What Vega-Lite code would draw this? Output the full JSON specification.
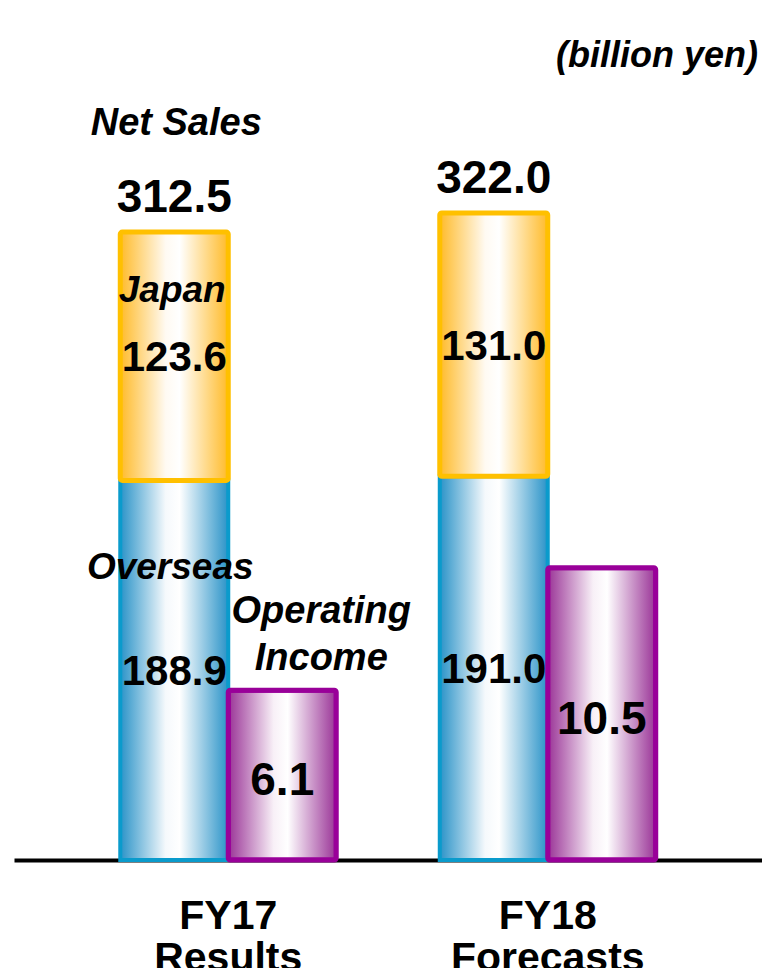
{
  "$schema": "https://vega.github.io/schema/vega-lite/v6.json",
  "width": 748,
  "height": 860,
  "padding": {"left": 14, "top": 0, "right": 0, "bottom": 0},
  "background": "white",
  "config": {
    "view": {"stroke": null},
    "font": "Liberation Sans",
    "axisY": {"disable": true},
    "axisX": {
      "domainColor": "black",
      "domainWidth": 4,
      "ticks": false,
      "tickSize": 0,
      "grid": false,
      "labelFont": "Liberation Sans",
      "labelFontSize": 41,
      "labelFontWeight": "bold",
      "labelColor": "black",
      "labelPadding": 36,
      "labelLineHeight": 42,
      "labelAngle": 0,
      "labelLimit": 0
    }
  },
  "data": {
    "values": [
      {"period": "FY17 Results", "measure": "Net Sales", "segment": "Overseas", "value": 188.9},
      {"period": "FY17 Results", "measure": "Net Sales", "segment": "Japan", "value": 123.6},
      {"period": "FY17 Results", "measure": "Operating Income", "segment": "Operating Income", "value": 6.1},
      {"period": "FY18 Forecasts", "measure": "Net Sales", "segment": "Overseas", "value": 191.0},
      {"period": "FY18 Forecasts", "measure": "Net Sales", "segment": "Japan", "value": 131.0},
      {"period": "FY18 Forecasts", "measure": "Operating Income", "segment": "Operating Income", "value": 10.5}
    ]
  },
  "layer": [
    {
      "transform": [
        {"filter": "datum.measure === 'Net Sales'"},
        {"stack": "value", "groupby": ["period"], "sort": [{"field": "segment", "order": "descending"}], "as": ["v0", "v1"]}
      ],
      "encoding": {
        "x": {"field": "period", "type": "nominal", "sort": ["FY17 Results", "FY18 Forecasts"], "scale": {"domain": ["FY17 Results", "FY18 Forecasts"], "paddingInner": 0.324, "paddingOuter": 0.3326}, "axis": {"title": null, "labelExpr": "split(datum.label, ' ')"}},
        "xOffset": {"field": "measure", "type": "nominal", "scale": {"domain": ["Net Sales", "Operating Income"], "paddingInner": 0, "paddingOuter": 0}}
      },
      "layer": [
        {
          "transform": [{"filter": "datum.segment === 'Overseas'"}],
          "mark": {
            "type": "bar",
            "stroke": "#0a9bcc",
            "strokeWidth": 4,
            "fill": {"gradient": "linear", "x1": 0, "y1": 0, "x2": 1, "y2": 0, "stops": [
              {"offset": 0, "color": "#2a93c8"},
              {"offset": 0.42, "color": "#f5f9fc"},
              {"offset": 0.55, "color": "#ffffff"},
              {"offset": 1, "color": "#2a93c8"}
            ]}
          },
          "encoding": {
            "y": {"field": "v1", "type": "quantitative", "scale": {"domain": [0, 428], "nice": false}, "axis": null},
            "y2": {"field": "v0"}
          }
        },
        {
          "transform": [{"filter": "datum.segment === 'Japan'"}],
          "mark": {
            "type": "bar",
            "stroke": "#ffc000",
            "strokeWidth": 5,
            "cornerRadius": 2,
            "fill": {"gradient": "linear", "x1": 0, "y1": 0, "x2": 1, "y2": 0, "stops": [
              {"offset": 0, "color": "#ffbb2a"},
              {"offset": 0.42, "color": "#fffaf2"},
              {"offset": 0.55, "color": "#ffffff"},
              {"offset": 1, "color": "#ffbb2a"}
            ]}
          },
          "encoding": {
            "y": {"field": "v1", "type": "quantitative"},
            "y2": {"field": "v0"}
          }
        },
        {
          "transform": [{"aggregate": [{"op": "sum", "field": "value", "as": "total"}], "groupby": ["period", "measure"]}],
          "mark": {"type": "text", "fontSize": 46, "fontWeight": "bold", "baseline": "alphabetic", "dy": -20, "color": "black"},
          "encoding": {
            "y": {"field": "total", "type": "quantitative"},
            "text": {"field": "total", "format": ".1f"}
          }
        },
        {
          "mark": {"type": "text", "fontSize": 42, "fontWeight": "bold", "baseline": "middle", "dy": 2, "color": "black"},
          "encoding": {
            "y": {"field": "value", "type": "quantitative", "stack": "zero", "bandPosition": 0.5},
            "detail": {"field": "segment"},
            "order": {"field": "segment", "sort": "descending"},
            "text": {"field": "value", "format": ".1f"}
          }
        },
        {
          "transform": [{"filter": "datum.period === 'FY17 Results' && datum.segment === 'Japan'"}],
          "mark": {"type": "text", "fontSize": 38, "fontWeight": "bold", "fontStyle": "italic", "baseline": "alphabetic", "dx": 2, "color": "black"},
          "encoding": {
            "y": {"datum": 361, "type": "quantitative"},
            "text": {"field": "measure"}
          }
        },
        {
          "transform": [{"filter": "datum.period === 'FY17 Results' && datum.segment === 'Japan'"}],
          "mark": {"type": "text", "fontSize": 37, "fontWeight": "bold", "fontStyle": "italic", "baseline": "alphabetic", "dx": -2, "color": "black"},
          "encoding": {
            "y": {"datum": 277.9, "type": "quantitative"},
            "text": {"field": "segment"}
          }
        },
        {
          "transform": [{"filter": "datum.period === 'FY17 Results' && datum.segment === 'Overseas'"}],
          "mark": {"type": "text", "fontSize": 37, "fontWeight": "bold", "fontStyle": "italic", "baseline": "alphabetic", "dx": -4, "color": "black"},
          "encoding": {
            "y": {"datum": 139.9, "type": "quantitative"},
            "text": {"field": "segment"}
          }
        }
      ]
    },
    {
      "transform": [{"filter": "datum.measure === 'Operating Income'"}],
      "encoding": {
        "x": {"field": "period", "type": "nominal", "sort": ["FY17 Results", "FY18 Forecasts"], "scale": {"domain": ["FY17 Results", "FY18 Forecasts"], "paddingInner": 0.324, "paddingOuter": 0.3326}, "axis": {"title": null, "labelExpr": "split(datum.label, ' ')"}},
        "xOffset": {"field": "measure", "type": "nominal", "scale": {"domain": ["Net Sales", "Operating Income"], "paddingInner": 0, "paddingOuter": 0}}
      },
      "layer": [
        {
          "mark": {
            "type": "bar",
            "stroke": "#990099",
            "strokeWidth": 5,
            "cornerRadius": 2,
            "fill": {"gradient": "linear", "x1": 0, "y1": 0, "x2": 1, "y2": 0, "stops": [
              {"offset": 0, "color": "#9a3497"},
              {"offset": 0.42, "color": "#f8f0f7"},
              {"offset": 0.55, "color": "#ffffff"},
              {"offset": 1, "color": "#9a3497"}
            ]}
          },
          "encoding": {
            "y": {"field": "value", "type": "quantitative", "scale": {"domain": [0, 30.9], "nice": false}, "axis": null}
          }
        },
        {
          "mark": {"type": "text", "fontSize": 46, "fontWeight": "bold", "baseline": "middle", "dy": 6, "color": "black"},
          "encoding": {
            "y": {"field": "value", "type": "quantitative", "stack": "zero", "bandPosition": 0.5},
            "text": {"field": "value", "format": ".1f"}
          }
        },
        {
          "transform": [{"filter": "datum.period === 'FY17 Results'"}],
          "mark": {"type": "text", "fontSize": 38, "fontWeight": "bold", "fontStyle": "italic", "baseline": "alphabetic", "lineBreak": " ", "lineHeight": 47, "dx": 39, "color": "black"},
          "encoding": {
            "y": {"datum": 8.53, "type": "quantitative"},
            "text": {"field": "measure"}
          }
        }
      ]
    },
    {
      "transform": [{"filter": "datum.period === 'FY17 Results' && datum.segment === 'Japan'"}],
      "mark": {"type": "text", "text": "(billion yen)", "align": "right", "baseline": "alphabetic", "fontSize": 36, "fontWeight": "bold", "fontStyle": "italic", "dx": -4, "color": "black"},
      "encoding": {
        "x": {"value": "width"},
        "y": {"datum": 394.6, "type": "quantitative", "scale": {"domain": [0, 428], "nice": false}}
      }
    }
  ],
  "resolve": {"scale": {"y": "independent"}}
}
